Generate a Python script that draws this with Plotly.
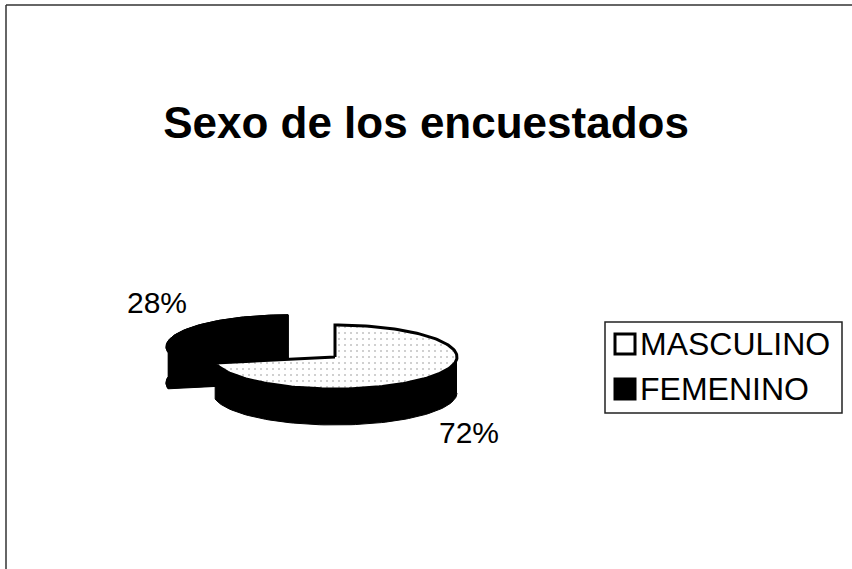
import math
import plotly.graph_objects as go

# ---- data ----
categories = ["MASCULINO", "FEMENINO"]
values = [0.72, 0.28]
title_text = "Sexo de los encuestados"

# ---- geometry / style (pixel space) ----
W, H = 852, 569
CX, CY = 335, 357      # centre of un-exploded pie top face
RX, RY = 122, 32       # ellipse radii
DEPTH = 36             # thickness of pie
EXPLODE = [0.0, 0.5]   # explode fraction per slice
FONT = "Liberation Sans, Arial, sans-serif"

def pt(cx, cy, theta_deg, dy=0.0):
    t = math.radians(theta_deg)
    return cx + RX * math.sin(t), cy - RY * math.cos(t) + dy

def arc(cx, cy, a0, a1, dy=0.0, n=80):
    xs, ys = [], []
    for i in range(n + 1):
        a = a0 + (a1 - a0) * i / n
        x, y = pt(cx, cy, a, dy)
        xs.append(x); ys.append(y)
    return xs, ys

fig = go.Figure()

def poly(xs, ys, fill="black", line="black", lw=1.0, pattern=None):
    kw = dict(x=xs, y=ys, mode="lines", fill="toself", fillcolor=fill,
              line=dict(color=line, width=lw), hoverinfo="skip", showlegend=False)
    if pattern:
        kw["fillpattern"] = pattern
    fig.add_trace(go.Scatter(**kw))

# slice angle ranges (clockwise from 12 o'clock)
starts, ends = [], []
acc = 0.0
for v in values:
    starts.append(acc * 360)
    acc += v
    ends.append(acc * 360)

centres = []
for i, v in enumerate(values):
    mid = (starts[i] + ends[i]) / 2
    k = EXPLODE[i]
    t = math.radians(mid)
    centres.append((CX + k * RX * math.sin(t), CY - k * RY * math.cos(t)))

# ---- FEMENINO slice (black prism, drawn first/behind) ----
cx, cy = centres[1]
a0, a1 = starts[1], ends[1]
for dy in (DEPTH, 0):
    xs, ys = arc(cx, cy, a0, a1, dy)
    poly([cx] + xs + [cx], [cy + dy] + ys + [cy + dy])
xt, yt = arc(cx, cy, a0, a1, 0)
xb, yb = arc(cx, cy, a0, a1, DEPTH)
poly(xt + xb[::-1], yt + yb[::-1])
for a in (a0, a1):
    x1, y1 = pt(cx, cy, a)
    poly([cx, x1, x1, cx, cx], [cy, y1, y1 + DEPTH, cy + DEPTH, cy])

# ---- MASCULINO slice ----
cx, cy = centres[0]
a0, a1 = starts[0], ends[0]
s0 = max(a0, 90)
xt, yt = arc(cx, cy, s0, a1, 0)
xb, yb = arc(cx, cy, s0, a1, DEPTH)
poly(xt + xb[::-1], yt + yb[::-1])
xs, ys = arc(cx, cy, a0, a1, 0, n=160)
poly([cx] + xs + [cx], [cy] + ys + [cy], fill="#ffffff", line="black", lw=3,
     pattern=dict(shape=".", fgcolor="#8a8a8a", bgcolor="#ffffff", size=6, solidity=0.1))

# ---- percentage labels ----
label_pos = [(469, 432), (157, 302)]
for i, v in enumerate(values):
    fig.add_annotation(x=label_pos[i][0], y=label_pos[i][1], text=f"{round(v*100)}%",
                       showarrow=False, font=dict(family=FONT, size=30, color="black"),
                       xanchor="center", yanchor="middle")

# ---- legend (manual, Excel-style) ----
LX0, LY0, LX1, LY1 = 605, 322, 842, 413
fig.add_shape(type="rect", x0=LX0, y0=LY0, x1=LX1, y1=LY1,
              line=dict(color="#222222", width=1.5), fillcolor="rgba(0,0,0,0)")
swatch_fill = ["#ffffff", "#000000"]
row_y = [344, 389]
for i, c in enumerate(categories):
    fig.add_shape(type="rect", x0=615, x1=635, y0=row_y[i] - 10, y1=row_y[i] + 10,
                  line=dict(color="black", width=3), fillcolor=swatch_fill[i])
    fig.add_annotation(x=638, y=row_y[i], text=c, showarrow=False,
                       font=dict(family=FONT, size=32, color="black"),
                       xanchor="left", yanchor="middle")

# ---- chart border (top and left visible) ----
fig.add_shape(type="line", x0=6, y0=5, x1=W, y1=5, line=dict(color="#333333", width=1.5))
fig.add_shape(type="line", x0=6, y0=5, x1=6, y1=H, line=dict(color="#333333", width=1.5))

fig.update_layout(
    width=W, height=H,
    margin=dict(l=0, r=0, t=0, b=0),
    paper_bgcolor="white", plot_bgcolor="white",
    title=dict(text=f"<b>{title_text}</b>", x=0.5, xanchor="center",
               y=1 - 123 / H, yanchor="middle",
               font=dict(family=FONT, size=44, color="black")),
    xaxis=dict(range=[0, W], visible=False, fixedrange=True),
    yaxis=dict(range=[H, 0], visible=False, fixedrange=True),
    showlegend=False,
)

fig.write_html("out.html")
